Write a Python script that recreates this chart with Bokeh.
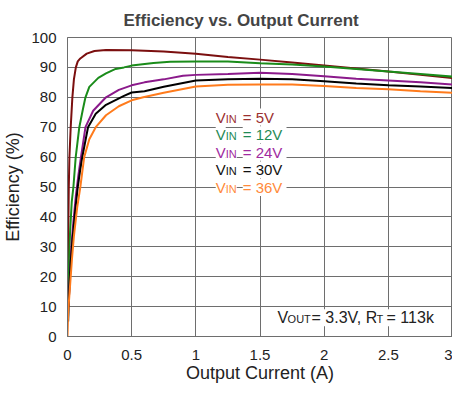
from bokeh.plotting import figure
from bokeh.models import Label, FixedTicker
from bokeh.embed import file_html
from bokeh.resources import INLINE

# output current (A) and efficiency (%)
i_5v = [0.002, 0.006, 0.01, 0.015, 0.025, 0.038, 0.05, 0.065, 0.08, 0.1, 0.15, 0.21, 0.3,
        0.5, 0.75, 1.0, 1.25, 1.5, 1.75, 2.0, 2.25, 2.5, 2.75, 3.0]
eff_5v = [15, 35, 50, 60, 70, 80, 86, 90, 92, 93, 94.6, 95.5, 95.8,
          95.7, 95.3, 94.6, 93.5, 92.6, 91.6, 90.6, 89.6, 88.6, 87.5, 86.4]

i_12v = [0.003, 0.01, 0.02, 0.033, 0.046, 0.064, 0.092, 0.12, 0.14, 0.17, 0.24, 0.3, 0.375,
         0.44, 0.5, 0.67, 0.8, 1.0, 1.25, 1.5, 1.75, 2.0, 2.25, 2.5, 2.75, 3.0]
eff_12v = [10, 22, 35, 45, 50, 60, 70, 76, 80, 83.5, 86.5, 88, 89.5,
           90, 90.6, 91.5, 91.9, 92, 92, 91.4, 91, 90.3, 89.5, 88.6, 87.8, 86.9]

i_24v = [0.008, 0.015, 0.03, 0.045, 0.065, 0.085, 0.105, 0.14, 0.2, 0.3, 0.4, 0.5, 0.6,
         0.75, 0.9, 1.0, 1.25, 1.5, 1.75, 2.0, 2.25, 2.5, 2.75, 3.0]
eff_24v = [10, 17, 30, 38, 47, 54, 60, 70, 75.5, 80, 82.5, 84, 85,
           86, 87.2, 87.5, 87.8, 88.2, 87.8, 87, 86.2, 85.6, 85, 84.3]

i_30v = [0.005, 0.012, 0.025, 0.04, 0.06, 0.08, 0.1, 0.115, 0.16, 0.22, 0.3, 0.44, 0.5,
         0.6, 0.75, 1.0, 1.25, 1.5, 1.75, 2.0, 2.25, 2.5, 2.75, 3.0]
eff_30v = [5, 14, 25, 33, 42, 50, 56, 60, 70, 74.5, 77.5, 80.5, 81.6,
           82, 83.5, 85.6, 86, 86.2, 86, 85.4, 84.6, 84, 83.6, 83.1]

i_36v = [0.0, 0.005, 0.02, 0.035, 0.05, 0.075, 0.1, 0.13, 0.17, 0.22, 0.3, 0.4, 0.5,
         0.59, 0.75, 1.0, 1.25, 1.5, 1.75, 2.0, 2.25, 2.5, 2.75, 3.0]
eff_36v = [0, 8, 17, 26, 33.6, 43, 50, 60, 66, 70, 74, 77, 79,
           80, 81.5, 83.6, 84.2, 84.3, 84.3, 83.8, 83.1, 82.7, 82, 81.5]

vin_labels = ["5V", "12V", "24V", "30V", "36V"]
x_ticks = [0, 0.5, 1, 1.5, 2, 2.5, 3]
x_tick_labels = ["0", "0.5", "1", "1.5", "2", "2.5", "3"]
y_ticks = [0, 10, 20, 30, 40, 50, 60, 70, 80, 90, 100]

FONT = "Liberation Sans"
GRID = "#6e6e6e"

series = [
    (i_5v, eff_5v, "#7b0f0f", "#9b3030"),
    (i_12v, eff_12v, "#1a8c1a", "#1f8a55"),
    (i_24v, eff_24v, "#8b1a8b", "#a02aa0"),
    (i_30v, eff_30v, "#000000", "#111111"),
    (i_36v, eff_36v, "#ff7b1c", "#ff8a3a"),
]

p = figure(width=452, height=385, x_range=(0, 3), y_range=(0, 100),
           output_backend="svg", toolbar_location=None,
           min_border_left=61, min_border_right=0, min_border_top=36, min_border_bottom=10,
           title="Efficiency vs. Output Current")

p.title.text_font = FONT
p.title.text_font_size = "17px"
p.title.text_font_style = "bold"
p.title.align = "left"
p.title.offset = 56
p.title.standoff = 16

p.outline_line_color = GRID
p.xgrid.grid_line_color = GRID
p.ygrid.grid_line_color = GRID

p.xaxis.ticker = FixedTicker(ticks=x_ticks)
p.xaxis.major_label_overrides = dict(zip(x_ticks, x_tick_labels))
p.yaxis.ticker = FixedTicker(ticks=y_ticks)

for ax in (p.xaxis, p.yaxis):
    ax.axis_line_color = GRID
    ax.major_tick_line_color = None
    ax.minor_tick_line_color = None
    ax.major_tick_out = 0
    ax.major_tick_in = 0
    ax.major_label_text_font = FONT
    ax.major_label_text_font_size = "15px"
    ax.major_label_text_color = "#222222"
    ax.axis_label_text_font = FONT
    ax.axis_label_text_font_size = "18px"
    ax.axis_label_text_font_style = "normal"
    ax.axis_label_text_color = "#222222"

p.xaxis.axis_label = "Output Current (A)"
p.yaxis.axis_label = "Efficiency (%)"
p.xaxis.major_label_standoff = 13
p.yaxis.major_label_standoff = 11
p.xaxis.axis_label_standoff = 0
p.yaxis.axis_label_standoff = 5

for xs, ys, col, _ in series:
    p.line(xs, ys, line_color=col, line_width=2)


def add_label(x, y, text, size, color, dx=0):
    lab = Label(x=x, y=y, text=text, x_offset=dx, text_font=FONT,
                text_font_size=size, text_color=color, text_baseline="middle",
                background_fill_color="white")
    p.add_layout(lab)


# VIN legend, written as V + small "IN" + value
for k, (vin, s) in enumerate(zip(vin_labels, series)):
    y = 73.4 - k * 5.9
    add_label(1.155, y, "V", "15px", s[3])
    add_label(1.155, y - 0.5, "IN", "11px", s[3], dx=10)
    add_label(1.155, y, "=  " + vin, "15px", s[3], dx=27)

# operating point note
add_label(1.637, 6.3, "V", "16px", "#222222")
add_label(1.637, 5.8, "OUT", "11px", "#222222", dx=10)
add_label(1.637, 6.3, "= 3.3V, R", "16px", "#222222", dx=34)
add_label(1.637, 5.8, "T", "11px", "#222222", dx=99)
add_label(1.637, 6.3, "=  113k", "16px", "#222222", dx=109)

open("out.html", "w").write(file_html(p, INLINE))
